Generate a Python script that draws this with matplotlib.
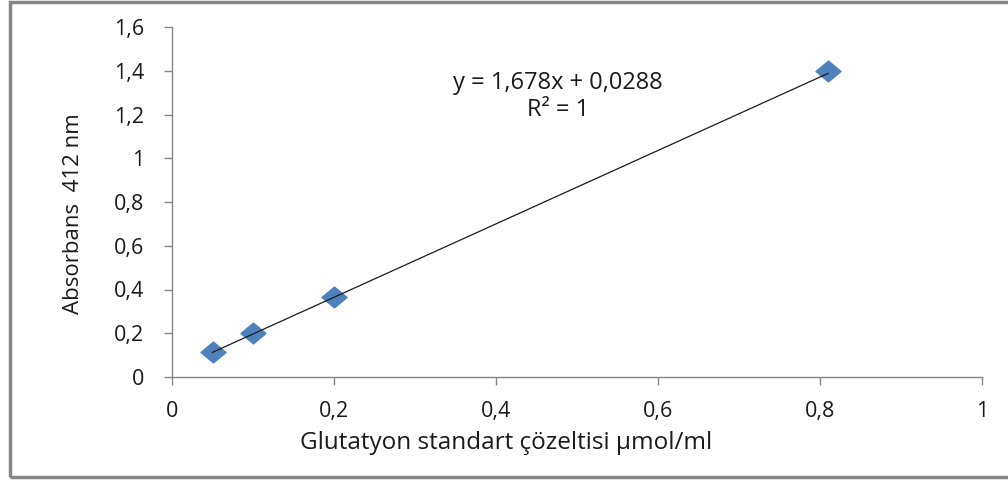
import matplotlib
matplotlib.use('Agg')
import matplotlib.pyplot as plt
from matplotlib.path import Path
from matplotlib.patches import Rectangle

# glutathione standard curve
conc = [0.05, 0.1, 0.2, 0.81]
absorbance = [0.114, 0.203, 0.366, 1.398]
slope = 1.678
intercept = 0.0288
r_squared = 1

x_ticks = [0, 0.2, 0.4, 0.6, 0.8, 1]
y_ticks = [0, 0.2, 0.4, 0.6, 0.8, 1, 1.2, 1.4, 1.6]

plt.rcParams['font.family'] = ['Open Sans', 'DejaVu Sans']

def comma(v):
    s = f"{v:g}"
    return s.replace(".", ",")

fig = plt.figure(figsize=(10.08, 4.8), dpi=100)
ax = fig.add_axes([172 / 1008, 103 / 480, 810 / 1008, 350 / 480])

# slightly wide diamond marker, Excel style
diamond = Path([(-1.2, 0), (0, 1), (1.2, 0), (0, -1), (-1.2, 0)],
               [Path.MOVETO, Path.LINETO, Path.LINETO, Path.LINETO, Path.CLOSEPOLY])
ax.plot(conc, absorbance, linestyle='none', marker=diamond, markersize=18,
        color='#4F81BD', markeredgecolor='#4F81BD', zorder=3)

# linear trendline from the fitted equation
xs = [min(conc), max(conc)]
ax.plot(xs, [slope * x + intercept for x in xs], color='#1a1a1a', linewidth=0.9, zorder=4)

ax.text(0.4765, 1.282, f"y = {comma(slope)}x + {comma(intercept)}\nR² = {r_squared}",
        ha='center', va='center', fontsize=17, color='#1a1a1a', linespacing=1.15)

ax.set_xlim(0, 1)
ax.set_ylim(0, 1.6)
ax.set_xticks(x_ticks)
ax.set_yticks(y_ticks)
ax.set_xticklabels([comma(v) for v in x_ticks])
ax.set_yticklabels([comma(v) for v in y_ticks])
ax.tick_params(axis='both', direction='out', length=6, width=1, color='#868686',
               labelsize=15.5, labelcolor='#1a1a1a')
ax.tick_params(axis='x', pad=11)
ax.tick_params(axis='y', pad=14)

for side in ['top', 'right']:
    ax.spines[side].set_visible(False)
for side in ['left', 'bottom']:
    ax.spines[side].set_color('#868686')
    ax.spines[side].set_linewidth(1)

ax.set_xlabel("Glutatyon standart çözeltisi µmol/ml", fontsize=17.5, color='#1a1a1a')
ax.set_ylabel("Absorbans  412 nm", fontsize=16, color='#1a1a1a')
ax.xaxis.label.set_va('center')
ax.yaxis.label.set_va('center')
ax.xaxis.set_label_coords(0.412, -0.189)
ax.yaxis.set_label_coords(-0.122, 0.466)

# chart area frame
fig.patches.append(Rectangle((9.5 / 1008, 3.5 / 480), 1.2, 475 / 480,
                             transform=fig.transFigure, fill=False,
                             edgecolor='#868686', linewidth=2.5))

fig.savefig('out.png', dpi=100)
